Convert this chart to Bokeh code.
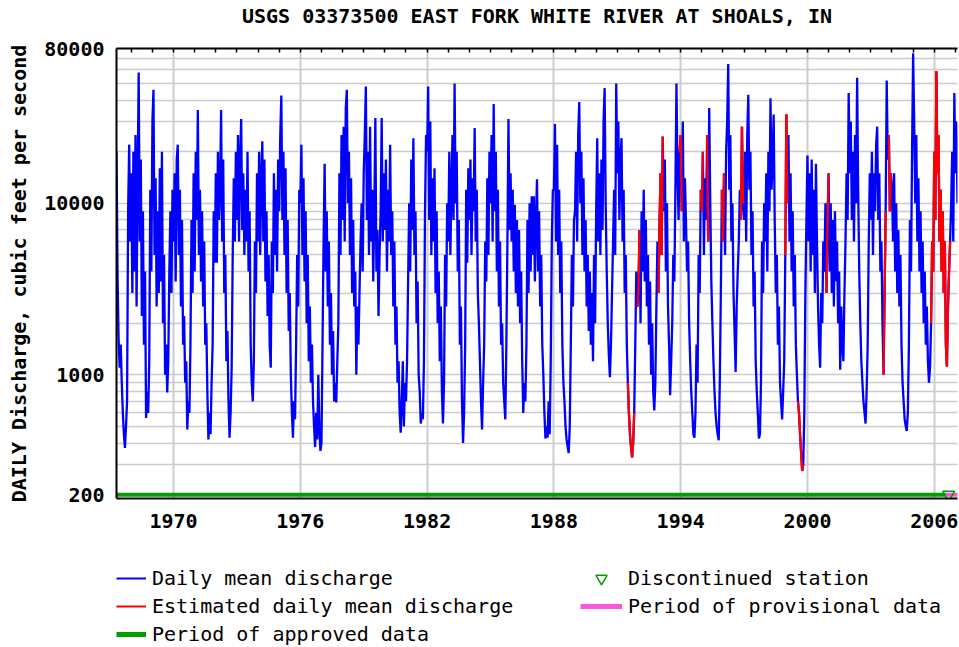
from bokeh.plotting import figure
from bokeh.models import Range1d, FixedTicker, LinearAxis, Legend, LegendItem
from bokeh.layouts import column
from bokeh.embed import file_html
from bokeh.resources import INLINE

TITLE = "USGS 03373500 EAST FORK WHITE RIVER AT SHOALS, IN"
Y_LABEL = "DAILY Discharge, cubic feet per second"
X_TICKS = [1970, 1976, 1982, 1988, 1994, 2000, 2006]
X_TICK_LABELS = ["1970", "1976", "1982", "1988", "1994", "2000", "2006"]
YEAR_TICKS = list(range(1967, 2008))
Y_TICKS = [200, 1000, 10000, 80000]
Y_TICK_LABELS = ["200", "1000", "10000", "80000"]
Y_GRID = [200, 300, 400, 500, 600, 700, 800, 900,
          1000, 2000, 3000, 4000, 5000, 6000, 7000, 8000, 9000,
          10000, 20000, 30000, 40000, 50000, 60000, 70000, 80000]

SAMPLES_PER_YEAR = 20
FIRST_YEAR = 1967
FIRST_INDEX = 6

# daily mean discharge (cfs) at ~18-day steps
q1967 = [20000, 3800, 1600, 1100, 1500, 900, 600, 450, 375, 500, 700, 9000, 22000, 6000]
q1968 = [15000, 3000, 20000, 4000, 25000, 2500, 14000, 58000, 6000, 18000, 2200, 9000, 1500, 4000, 560, 800, 600, 1200, 12000, 4000]
q1969 = [30000, 46000, 5000, 14000, 2500, 9000, 3000, 16000, 3500, 20000, 2000, 5000, 1000, 1500, 790, 1200, 4000, 9000, 3000, 12000]
q1970 = [6000, 15000, 3500, 18000, 22000, 5000, 12000, 2500, 8000, 1500, 2200, 900, 1200, 480, 700, 600, 1500, 8000, 3000, 15000]
q1971 = [4000, 20000, 8000, 35000, 5000, 12000, 3500, 9000, 2500, 6000, 1500, 2000, 800, 420, 600, 450, 900, 1500, 9000, 4500]
q1972 = [15000, 4500, 20000, 8000, 12000, 35000, 6000, 18000, 3000, 5000, 1200, 1800, 700, 430, 600, 1100, 5000, 14000, 6000, 20000]
q1973 = [8000, 25000, 6000, 18000, 31000, 7000, 15000, 5000, 12000, 6000, 20000, 4000, 9000, 1500, 900, 700, 1200, 6000, 3000, 15000]
q1974 = [6000, 20000, 5000, 14000, 23000, 6000, 18000, 3500, 9000, 2200, 5000, 1500, 1100, 6000, 3000, 15000, 5000, 12000, 4000, 18000]
q1975 = [9000, 25000, 42500, 8000, 20000, 5000, 16000, 3000, 8000, 1800, 3000, 1000, 600, 430, 700, 550, 1500, 5000, 2500, 12000]
q1976 = [10000, 22000, 5000, 14000, 3500, 9000, 2000, 5000, 1200, 2500, 900, 1500, 700, 500, 380, 600, 420, 1000, 500, 360]
q1977 = [400, 1500, 6000, 17000, 4000, 9000, 2500, 6000, 1500, 3000, 1000, 1800, 700, 900, 690, 1200, 2000, 15000, 5000, 25000]
q1978 = [8000, 28000, 6000, 36000, 46000, 10000, 20000, 5000, 14000, 3000, 8000, 2500, 4000, 1000, 2500, 1500, 3000, 6000, 10000, 4000]
q1979 = [15000, 25000, 48000, 8000, 20000, 5000, 28000, 6000, 12000, 3500, 9000, 31500, 4000, 7000, 2200, 5000, 9000, 31500, 6000, 15000]
q1980 = [7000, 18000, 4000, 12000, 6000, 22000, 5000, 9000, 2500, 6000, 1500, 2500, 900, 1200, 600, 460, 700, 1200, 500, 900]
q1981 = [700, 1200, 3500, 10000, 4000, 18000, 7000, 24000, 5000, 9000, 2000, 3500, 1000, 800, 520, 600, 550, 1200, 9000, 25000]
q1982 = [20000, 48000, 8000, 30000, 5000, 14000, 6000, 16000, 3000, 9000, 2000, 4000, 1200, 2500, 800, 520, 900, 5000, 2500, 10000]
q1983 = [6000, 20000, 5000, 12000, 25000, 8000, 50000, 10000, 20000, 4000, 8000, 1500, 2500, 700, 400, 600, 1500, 12000, 4500, 16000]
q1984 = [8000, 18000, 5000, 14000, 9000, 27500, 6000, 12000, 3000, 2000, 1200, 700, 480, 900, 1500, 6000, 3500, 14000, 5000, 20000]
q1985 = [10000, 25000, 6000, 38000, 9000, 20000, 4000, 12000, 2500, 6000, 1500, 2000, 900, 700, 550, 1500, 6000, 31000, 7000, 15000]
q1986 = [6000, 12000, 4000, 9800, 3000, 8000, 2500, 7000, 2000, 4000, 1200, 600, 900, 700, 1500, 8000, 3000, 10000, 4000, 11000]
q1987 = [5000, 11000, 3500, 8000, 13800, 4000, 9000, 2500, 5000, 1500, 1000, 600, 425, 500, 430, 700, 450, 1200, 6000, 12000]
q1988 = [12000, 29000, 6000, 22000, 5000, 12000, 3000, 6000, 1500, 900, 700, 500, 420, 380, 350, 500, 1500, 5000, 2500, 8000]
q1989 = [9000, 20000, 6000, 25000, 39000, 10000, 20000, 5000, 14000, 4000, 8000, 2500, 5000, 1800, 4000, 1500, 3000, 1200, 5000, 2000]
q1990 = [9000, 24000, 6000, 15000, 5000, 18000, 7000, 30000, 47000, 10000, 4000, 2000, 1300, 970, 1500, 3000, 6000, 12000, 5000, 50000]
q1991 = [15000, 30000, 8000, 18000, 24000, 6000, 12000, 3000, 5000, 1500, 900, 600, 450, 380, 330, 400, 600, 1500, 4000, 2500]
q1992 = [3000, 7000, 2000, 9000, 4000, 12000, 3500, 8000, 2500, 5000, 1500, 3500, 1000, 2000, 800, 620, 900, 2500, 6000, 3000]
q1993 = [8000, 15000, 5000, 24500, 9000, 18000, 4000, 10000, 2500, 1500, 760, 1200, 2000, 5000, 3500, 12000, 50000, 15000, 8000, 20000]
q1994 = [25000, 9000, 30000, 6000, 14000, 8000, 4000, 6000, 2000, 1200, 800, 600, 450, 430, 600, 1500, 900, 5000, 3000, 12000]
q1995 = [9000, 20000, 5000, 14000, 8000, 25000, 6000, 36000, 10000, 3500, 2000, 1200, 800, 600, 500, 450, 415, 900, 3000, 12000]
q1996 = [6000, 15000, 5000, 20000, 30000, 65000, 12000, 25000, 6000, 10000, 3000, 1800, 1040, 2500, 4000, 6000, 12000, 8000, 28000, 10000]
q1997 = [8000, 20000, 6000, 25000, 43000, 12000, 20000, 5000, 9000, 2500, 4000, 1200, 800, 600, 425, 450, 900, 6000, 3000, 10000]
q1998 = [6000, 15000, 4000, 20000, 9000, 41000, 12000, 18000, 33000, 8000, 3000, 5000, 1500, 2500, 900, 700, 550, 800, 1200, 5000]
q1999 = [33000, 10000, 25000, 6000, 15000, 4000, 9000, 2500, 5000, 1500, 1000, 700, 600, 450, 350, 275, 300, 600, 3000, 8000]
q2000 = [19000, 6000, 15000, 4000, 18000, 5000, 12000, 3000, 17000, 6000, 2500, 1500, 1100, 3000, 2000, 6000, 4000, 10000, 3000, 8000]
q2001 = [15000, 4000, 10000, 3000, 8000, 2500, 9000, 3500, 6000, 2000, 4000, 1070, 2500, 1500, 1200, 3000, 6000, 15000, 8000, 44000]
q2002 = [15000, 30000, 8000, 20000, 6000, 25000, 10000, 54000, 12000, 4000, 2000, 1200, 900, 700, 600, 520, 800, 1500, 6000, 15000]
q2003 = [8000, 20000, 5000, 15000, 9000, 22000, 28000, 8000, 15000, 4000, 6000, 2000, 1000, 3000, 9000, 52000, 18000, 25000, 9000, 15000]
q2004 = [12000, 6000, 15000, 4000, 10000, 3000, 7000, 2500, 5000, 1500, 900, 700, 550, 500, 470, 600, 1500, 8000, 4000, 20000]
q2005 = [75000, 30000, 10000, 25000, 6000, 14000, 4000, 9000, 3000, 6000, 2000, 4000, 1500, 2500, 1200, 900, 1100, 2000, 6000, 4000]
q2006 = [20000, 8000, 59000, 15000, 25000, 6000, 12000, 4000, 9000, 3000, 6000, 1500, 1120, 2500, 4000, 6000, 10000, 20000, 6000, 44000]
q2007 = [15000, 30000, 10000, 25000]

# periods (decimal years) shown as estimated daily values
ESTIMATED_PERIODS = [(1991.55, 1991.75), (1992.0, 1992.02),
                     (1992.98, 1993.12), (1993.97, 1994.0), (1994.98, 1995.02),
                     (1995.26, 1995.28), (1996.0, 1996.03), (1996.88, 1996.92),
                     (1998.96, 1999.02), (1999.6, 1999.75), (2000.93, 2000.97),
                     (2003.62, 2003.66), (2003.9, 2003.93), (2005.88, 2006.72)]
APPROVED_PERIOD = [1967.30, 2006.55]
PROVISIONAL_PERIOD = [2006.55, 2007.2]
DISCONTINUED_AT = [2006.68]
BASE_LEVEL = 200

X_START, X_END = 1967.30, 2007.10
Y_START, Y_END = 190, 80000

yearly = [(1967, q1967), (1968, q1968), (1969, q1969), (1970, q1970), (1971, q1971),
          (1972, q1972), (1973, q1973), (1974, q1974), (1975, q1975), (1976, q1976),
          (1977, q1977), (1978, q1978), (1979, q1979), (1980, q1980), (1981, q1981),
          (1982, q1982), (1983, q1983), (1984, q1984), (1985, q1985), (1986, q1986),
          (1987, q1987), (1988, q1988), (1989, q1989), (1990, q1990), (1991, q1991),
          (1992, q1992), (1993, q1993), (1994, q1994), (1995, q1995), (1996, q1996),
          (1997, q1997), (1998, q1998), (1999, q1999), (2000, q2000), (2001, q2001),
          (2002, q2002), (2003, q2003), (2004, q2004), (2005, q2005), (2006, q2006),
          (2007, q2007)]

t, q = [], []
for year, vals in yearly:
    start = FIRST_INDEX if year == FIRST_YEAR else 0
    for i, v in enumerate(vals):
        t.append(year + (start + i) / SAMPLES_PER_YEAR)
        q.append(v)

ex0, ey0, ex1, ey1 = [], [], [], []
for i in range(len(t) - 1):
    for a, b in ESTIMATED_PERIODS:
        if t[i] <= b and t[i + 1] >= a:
            ex0.append(t[i]); ey0.append(q[i]); ex1.append(t[i + 1]); ey1.append(q[i + 1])
            break

FONT = "DejaVu Sans Mono"
BLUE, RED, GREEN, PINK, GRID = "#0000ff", "#ff0000", "#009e00", "#ff55dd", "#cccccc"

p = figure(frame_width=841, frame_height=450, x_range=Range1d(X_START, X_END),
           y_range=Range1d(Y_START, Y_END), y_axis_type="log",
           min_border_left=116, min_border_right=1, min_border_top=48, min_border_bottom=58,
           output_backend="svg", toolbar_location=None)
p.outline_line_color = None
p.background_fill_color = "white"
p.border_fill_color = "white"

# axes
xa = p.xaxis[0]
xa.ticker = FixedTicker(ticks=X_TICKS)
xa.major_label_overrides = dict(zip(X_TICKS, X_TICK_LABELS))
xa.major_label_text_font = FONT
xa.major_label_text_font_style = "bold"
xa.major_label_text_font_size = "20px"
xa.major_label_text_color = "black"
xa.major_label_standoff = 15
xa.major_tick_line_color = None
xa.minor_tick_line_color = None
xa.major_tick_out = 0
xa.axis_line_color = "black"
xa.axis_line_width = 2

ya = p.yaxis[0]
ya.ticker = FixedTicker(ticks=Y_TICKS)
ya.major_label_overrides = dict(zip(Y_TICKS, Y_TICK_LABELS))
ya.major_label_text_font = FONT
ya.major_label_text_font_style = "bold"
ya.major_label_text_font_size = "20px"
ya.major_label_text_color = "black"
ya.major_label_standoff = 12
ya.major_tick_line_color = None
ya.minor_tick_line_color = None
ya.major_tick_out = 0
ya.axis_line_color = "black"
ya.axis_line_width = 2
ya.axis_label = Y_LABEL
ya.axis_label_text_font = FONT
ya.axis_label_text_font_style = "bold"
ya.axis_label_text_font_size = "20px"
ya.axis_label_text_color = "black"
ya.axis_label_standoff = 10

# top border with yearly ticks; its label carries the chart title
top = LinearAxis(ticker=FixedTicker(ticks=YEAR_TICKS))
top.major_label_text_font_size = "0px"
top.major_label_text_color = None
top.major_label_standoff = 0
top.major_tick_in = 4
top.major_tick_out = 0
top.major_tick_line_color = "black"
top.major_tick_line_width = 1.5
top.minor_tick_line_color = None
top.axis_line_color = "black"
top.axis_line_width = 2
top.axis_label = TITLE
top.axis_label_text_font = FONT
top.axis_label_text_font_style = "bold"
top.axis_label_text_font_size = "20px"
top.axis_label_text_color = "black"
top.axis_label_standoff = 21
p.add_layout(top, "above")

p.xgrid.ticker = FixedTicker(ticks=X_TICKS)
p.xgrid.grid_line_color = GRID
p.xgrid.grid_line_width = 2
p.ygrid.ticker = FixedTicker(ticks=Y_GRID)
p.ygrid.grid_line_color = GRID
p.ygrid.grid_line_width = 1.5

# data
p.line(t, q, line_color=BLUE, line_width=2.3)
p.segment(x0=ex0, y0=ey0, x1=ex1, y1=ey1, line_color=RED, line_width=2.3)
p.line(APPROVED_PERIOD, [BASE_LEVEL, BASE_LEVEL], line_color=GREEN, line_width=4)
p.line(PROVISIONAL_PERIOD, [BASE_LEVEL, BASE_LEVEL], line_color=PINK, line_width=4)
p.scatter(DISCONTINUED_AT, [BASE_LEVEL], marker="inverted_triangle", size=12,
          fill_color=None, line_color=GREEN, line_width=1.5)

# legend strip below the chart (its frame is aligned with the chart frame);
# its renderers carry the same data, which lies outside this strip's ranges
lf = figure(width=958, height=90, x_range=Range1d(0, 1), y_range=Range1d(0, 1),
            min_border=0, x_axis_location=None, y_axis_location=None,
            output_backend="svg", toolbar_location=None)
lf.outline_line_color = None
lf.grid.visible = False
l_daily = lf.line(t, q, line_color=BLUE, line_width=2)
l_est = lf.segment(x0=ex0, y0=ey0, x1=ex1, y1=ey1, line_color=RED, line_width=2)
l_appr = lf.line(APPROVED_PERIOD, [BASE_LEVEL, BASE_LEVEL], line_color=GREEN, line_width=5)
l_disc = lf.scatter(DISCONTINUED_AT, [BASE_LEVEL], marker="inverted_triangle", size=12,
                    fill_color=None, line_color=GREEN, line_width=1.5)
l_prov = lf.line(PROVISIONAL_PERIOD, [BASE_LEVEL, BASE_LEVEL], line_color=PINK, line_width=5)


def make_legend(items, loc, glyph_width, glyph_height, spacing):
    return Legend(items=items, location=loc, orientation="vertical",
                  glyph_width=glyph_width, glyph_height=glyph_height, label_height=20,
                  label_standoff=6, spacing=spacing, padding=0, margin=0,
                  border_line_color=None, background_fill_alpha=0,
                  label_text_font=FONT, label_text_font_size="20px", label_text_color="black")


lf.add_layout(make_legend([LegendItem(label="Daily mean discharge", renderers=[l_daily]),
                           LegendItem(label="Estimated daily mean discharge", renderers=[l_est]),
                           LegendItem(label="Period of approved data", renderers=[l_appr])],
                          (0, 0), 30, 24, 4))
lf.add_layout(make_legend([LegendItem(label="Discontinued station", renderers=[l_disc]),
                           LegendItem(label="Period of provisional data", renderers=[l_prov])],
                          (464, 26), 42, 28, 0))

open("out.html", "w").write(file_html(column(p, lf), INLINE))
